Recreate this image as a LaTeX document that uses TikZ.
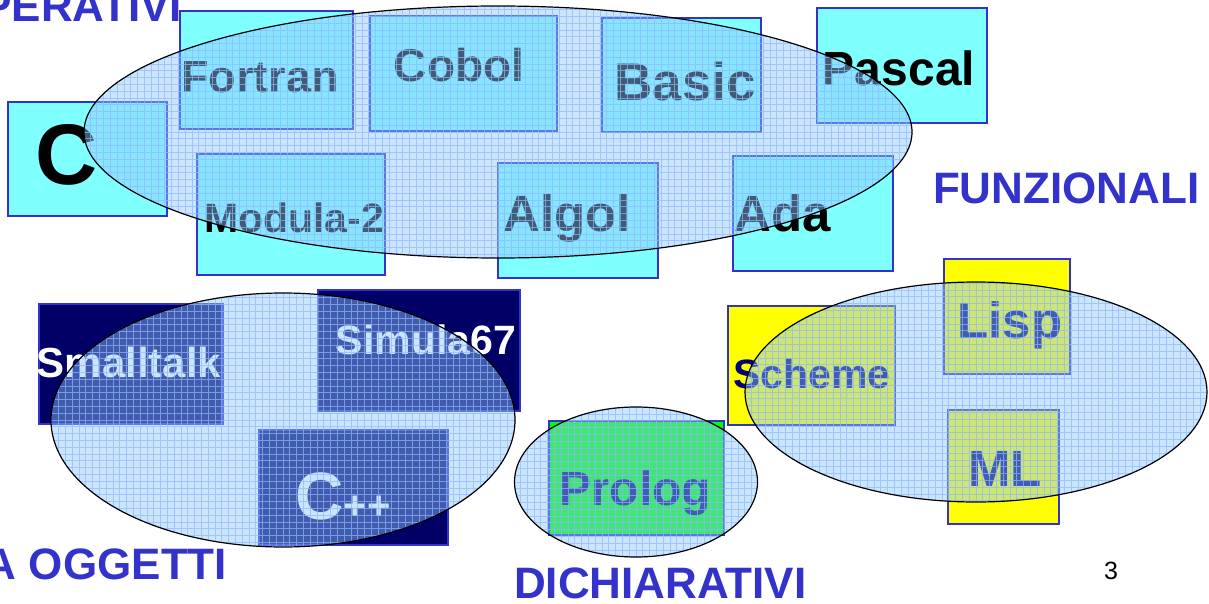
\documentclass[tikz,border=0pt]{standalone}
\usepackage{fontspec}
\setmainfont{Liberation Sans}
\usetikzlibrary{shapes.geometric}

\definecolor{cyanfill}{RGB}{128,255,255}
\definecolor{navyfill}{RGB}{0,0,102}
\definecolor{greenfill}{RGB}{0,255,0}
\definecolor{yellowfill}{RGB}{255,255,0}
\definecolor{edgeblue}{RGB}{51,51,204}
\definecolor{titleblue}{RGB}{51,51,204}
\definecolor{navytext}{RGB}{0,0,120}
\definecolor{veilblue}{RGB}{145,199,255}
\definecolor{meshblue}{RGB}{140,184,255}

\tikzset{
  langbox/.style={draw=edgeblue, line width=1.1pt, anchor=north west,
    inner sep=0pt, outer sep=0pt},
  cyanbox/.style={langbox, fill=cyanfill},
  navybox/.style={langbox, fill=navyfill},
  greenbox/.style={langbox, fill=greenfill},
  yellowbox/.style={langbox, fill=yellowfill},
  lang/.style={anchor=base, inner sep=0pt, outer sep=0pt,
    font=\fontsize{#1}{#1}\selectfont\bfseries},
  family/.style={anchor=base, inner sep=0pt, outer sep=0pt, text=titleblue,
    font=\fontsize{44}{44}\selectfont\bfseries},
  group/.style={ellipse, inner sep=0pt, outer sep=0pt, draw=black,
    line width=1.2pt,
    path picture={
      \fill[veilblue, fill opacity=0.46]
        (path picture bounding box.south west) rectangle
        (path picture bounding box.north east);
      \draw[meshblue, draw opacity=0.7, line width=0.9pt, step=6.8pt]
        (path picture bounding box.south west) grid
        (path picture bounding box.north east);
    }},
}

\begin{document}
\begin{tikzpicture}[x=1pt, y=-1pt]
  \path[use as bounding box, fill=white] (0,0) rectangle (1209,604);

  % imperative languages
  \node[cyanbox, minimum width=159pt, minimum height=114pt] (cbox) at (8,102) {};
  \node[cyanbox, minimum width=173pt, minimum height=118pt] (fortranbox) at (180,11) {};
  \node[cyanbox, minimum width=187pt, minimum height=115pt] (cobolbox) at (370,16) {};
  \node[cyanbox, minimum width=159pt, minimum height=114pt] (basicbox) at (602,18) {};
  \node[cyanbox, minimum width=170pt, minimum height=115pt] (pascalbox) at (817,8) {};
  \node[cyanbox, minimum width=188pt, minimum height=121pt] (modulabox) at (197,154) {};
  \node[cyanbox, minimum width=160pt, minimum height=115pt] (algolbox) at (498,163) {};
  \node[cyanbox, minimum width=160pt, minimum height=115pt] (adabox) at (733,156) {};

  \node[lang=86] (c) at (67,185) {C};
  \node[lang=45] (fortran) at (260,93) {Fortran};
  \node[lang=46] (cobol) at (459,82) {Cobol};
  \node[lang=53] (basic) at (685,101) {Basic};
  \node[lang=48] (pascal) at (899,86) {Pascal};
  \node[lang=41] (modula) at (294,232) {Modula-2};
  \node[lang=51] (algol) at (567,231) {Algol};
  \node[lang=51] (ada) at (783,231) {Ada};

  % object oriented languages
  \node[navybox, minimum width=184pt, minimum height=120pt] (smalltalkbox) at (39,304) {};
  \node[navybox, minimum width=202pt, minimum height=121pt] (simulabox) at (318,290) {};
  \node[navybox, minimum width=189pt, minimum height=115pt] (cppbox) at (259,430) {};

  \node[lang=42, text=white] (smalltalk) at (129,377) {Smalltalk};
  \node[lang=41, text=white] (simula) at (426,354) {Simula67};
  \node[anchor=base, inner sep=0pt, text=white, font=\bfseries] (cpp) at (343,519)
    {{\fontsize{67}{67}\selectfont C}{\fontsize{40}{40}\selectfont ++}};

  % declarative languages
  \node[greenbox, minimum width=175pt, minimum height=114pt] (prologbox) at (549,421) {};
  \node[lang=48, text=navytext] (prolog) at (635,505) {Prolog};

  % functional languages
  \node[yellowbox, minimum width=167pt, minimum height=119pt] (schemebox) at (728,306) {};
  \node[yellowbox, minimum width=126pt, minimum height=115pt] (lispbox) at (944,259) {};
  \node[yellowbox, minimum width=111pt, minimum height=114pt] (mlbox) at (948,410) {};

  \node[lang=41, text=navytext] (scheme) at (812,388) {Scheme};
  \node[lang=51, text=navytext] (lisp) at (1010,338) {Lisp};
  \node[lang=51, text=navytext] (ml) at (1005,486) {ML};

  % translucent grouping ellipses
  \node[group, minimum width=828pt, minimum height=252pt] (imperative) at (498,132) {};
  \node[group, minimum width=464pt, minimum height=254pt] (objects) at (283,420) {};
  \node[group, minimum width=243pt, minimum height=150pt] (declarative) at (636,482) {};
  \node[group, minimum width=462pt, minimum height=220pt] (functional) at (976,392) {};

  % family names
  \node[family, anchor=base east] (imptitle) at (182,22) {PERATIVI};
  \node[family, anchor=base west] (funtitle) at (933,204) {FUNZIONALI};
  \node[family, anchor=base east] (objtitle) at (227,579) {A OGGETTI};
  \node[family, anchor=base west] (dectitle) at (514,598) {DICHIARATIVI};

  % slide number
  \node[anchor=base, inner sep=0pt, font=\fontsize{25}{25}\selectfont] (pagenum) at (1111,579) {3};
\end{tikzpicture}
\end{document}
